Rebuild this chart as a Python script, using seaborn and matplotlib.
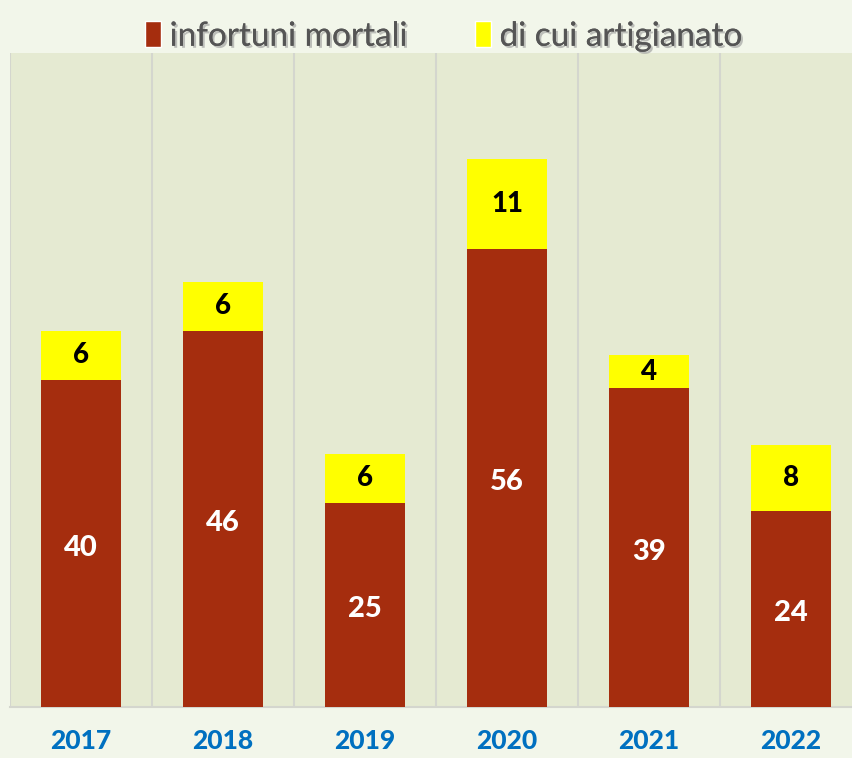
import matplotlib
matplotlib.use("Agg")
import matplotlib.pyplot as plt
import matplotlib.patheffects as pe
from matplotlib.patches import Patch
import seaborn as sns
import pandas as pd

# values
anni = ["2017", "2018", "2019", "2020", "2021", "2022"]
infortuni_mortali = [40, 46, 25, 56, 39, 24]
di_cui_artigianato = [6, 6, 6, 11, 4, 8]

rosso = "#A52D0E"
giallo = "#FFFF00"

df = pd.DataFrame({"anno": anni,
                   "mortali": infortuni_mortali,
                   "artig": di_cui_artigianato})
df["totale"] = df["mortali"] + df["artig"]

sns.set_theme(style="white")
plt.rcParams["font.family"] = ["Lato", "DejaVu Sans"]

fig = plt.figure(figsize=(8.53, 7.58), dpi=100, facecolor="#F2F6EA")
ax = fig.add_axes([10 / 853, 51 / 758, 852 / 853, 654 / 758])
ax.set_facecolor("#E5EAD2")

# stacked: yellow total first, red part drawn over it
sns.barplot(data=df, x="anno", y="totale", color=giallo, width=0.56,
            saturation=1, linewidth=0, edgecolor="none", ax=ax, zorder=3)
sns.barplot(data=df, x="anno", y="mortali", color=rosso, width=0.56,
            saturation=1, linewidth=0, edgecolor="none", ax=ax, zorder=3)

for i, (m, a) in enumerate(zip(df["mortali"], df["artig"])):
    ax.text(i, m / 2 - 0.5, str(m), ha="center", va="center", color="white",
            fontsize=21, fontweight="black", zorder=5)
    ax.text(i, m + a / 2, str(a), ha="center", va="center", color="black",
            fontsize=20, fontweight="black", zorder=5)

ax.set_xlim(-0.5, 5.5)
ax.set_ylim(0, 80)
ax.set_yticks([])
ax.set_xlabel("")
ax.set_ylabel("")

# vertical separators between years
for xb in [i - 0.5 for i in range(len(anni) + 1)]:
    ax.axvline(xb, color="#D4D6CE", lw=1.5, zorder=1)

for s in ["top", "right", "left"]:
    ax.spines[s].set_visible(False)
ax.spines["bottom"].set_color("#D4D6CE")
ax.spines["bottom"].set_linewidth(1.5)

ax.tick_params(axis="x", length=0, pad=16)
for lbl in ax.get_xticklabels():
    lbl.set_color("#0070C0")
    lbl.set_fontsize(19)
    lbl.set_fontweight("black")

handles = [Patch(facecolor=rosso, label="infortuni mortali"),
           Patch(facecolor=giallo, label="di cui artigianato")]
leg = fig.legend(handles=handles, loc="upper center", ncol=2,
                 bbox_to_anchor=(0.52, 1.012), frameon=False,
                 fontsize=24, handlelength=0.5, handleheight=0.85,
                 handletextpad=0.25, columnspacing=2.0)
for t in leg.get_texts():
    t.set_color("#555555")
    t.set_path_effects([pe.withSimplePatchShadow(offset=(1.5, -1.5),
                                                 shadow_rgbFace="#999999",
                                                 alpha=0.6),
                        pe.Normal()])

fig.savefig("out.png", dpi=100, facecolor=fig.get_facecolor())
